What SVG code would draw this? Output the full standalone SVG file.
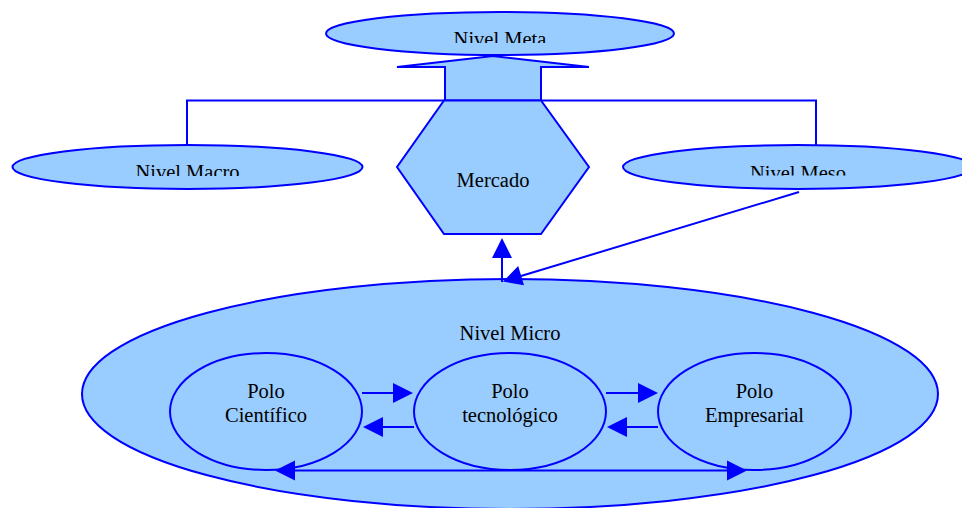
<svg xmlns="http://www.w3.org/2000/svg" width="962" height="508" viewBox="0 0 962 508">
<style>
.shape{fill:#99CCFF;stroke:#0000FF;stroke-width:2}
.line{fill:none;stroke:#0000FF;stroke-width:2}
.head{fill:#0000FF;stroke:none}
text{font-family:"Liberation Serif","Times New Roman",serif;font-size:20.5px;fill:#000;text-anchor:middle}
</style>
<defs>
<clipPath id="cMeta"><rect x="0" y="0" width="962" height="43"/></clipPath>
<clipPath id="cMacro"><rect x="0" y="150" width="962" height="26"/></clipPath>
<clipPath id="cMeso"><rect x="0" y="150" width="962" height="25.5"/></clipPath>
</defs>
<rect width="962" height="508" fill="#fff"/>
<g id="connectors-top">
<polyline class="line" points="187,146 187,100.5 816,100.5 816,146"/>
</g>
<g id="nivel-meta">
<ellipse class="shape" cx="500" cy="33.5" rx="174" ry="21.5"/>
<text x="500" y="45.5" clip-path="url(#cMeta)">Nivel Meta</text>
</g>
<g id="arrow-up-meta">
<polygon class="shape" points="445,100.5 445,67 397,67 493,56 589,67 541,67 541,100.5"/>
</g>
<g id="nivel-macro">
<ellipse class="shape" cx="187.5" cy="167" rx="175" ry="22"/>
<text x="187.5" y="179" clip-path="url(#cMacro)">Nivel Macro</text>
</g>
<g id="nivel-meso">
<ellipse class="shape" cx="798" cy="167" rx="175" ry="22"/>
<text x="798" y="179.5" clip-path="url(#cMeso)">Nivel Meso</text>
</g>
<g id="mercado">
<polygon class="shape" points="444,100.5 541,100.5 589,167 541,234 444,234 397,167"/>
<text x="493" y="187">Mercado</text>
</g>
<g id="nivel-micro">
<ellipse class="shape" cx="510" cy="394" rx="428" ry="115"/>
<text x="510" y="340">Nivel Micro</text>
</g>
<g id="polo-cientifico">
<ellipse class="shape" cx="266" cy="411.5" rx="96" ry="58.5"/>
<text x="266" y="397.5">Polo</text>
<text x="266" y="421.5">Científico</text>
</g>
<g id="polo-tecnologico">
<ellipse class="shape" cx="510" cy="411.5" rx="96" ry="58.5"/>
<text x="510" y="397.5">Polo</text>
<text x="510" y="421.5">tecnológico</text>
</g>
<g id="polo-empresarial">
<ellipse class="shape" cx="754.5" cy="411.5" rx="96.5" ry="58.5"/>
<text x="754.5" y="397.5">Polo</text>
<text x="754.5" y="421.5">Empresarial</text>
</g>
<g id="connectors">
<line class="line" x1="502" y1="282" x2="502" y2="256"/>
<polygon class="head" points="502,238 492,258 512,258"/>
<line class="line" x1="799" y1="192" x2="521" y2="276"/>
<polygon class="head" points="503,281.5 518.2,266.1 524.0,285.3"/>
<line class="line" x1="362" y1="393" x2="395" y2="393"/>
<polygon class="head" points="413,393 393,383 393,403"/>
<line class="line" x1="414" y1="427" x2="381" y2="427"/>
<polygon class="head" points="363,427 383,417 383,437"/>
<line class="line" x1="606" y1="393" x2="640" y2="393"/>
<polygon class="head" points="658,393 638,383 638,403"/>
<line class="line" x1="658" y1="427" x2="625" y2="427"/>
<polygon class="head" points="607,427 627,417 627,437"/>
<line class="line" x1="293" y1="470.5" x2="729" y2="470.5"/>
<polygon class="head" points="275,470.5 295,460.5 295,480.5"/>
<polygon class="head" points="747,470.5 727,460.5 727,480.5"/>
</g>
</svg>
